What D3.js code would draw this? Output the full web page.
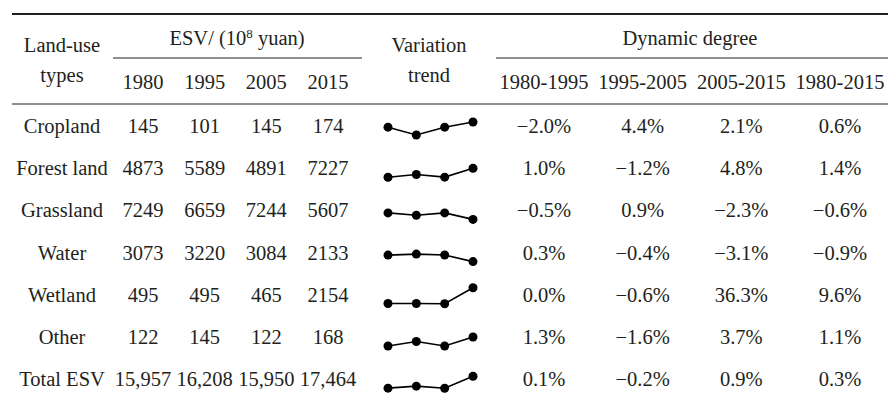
<!DOCTYPE html>
<html><head><meta charset="utf-8">
<script src="https://cdn.jsdelivr.net/npm/d3@7"></script>
<style>html,body{margin:0;padding:0;background:#fff;}svg{display:block;}</style>
</head><body>
<script>
const landTypes = ["Cropland","Forest land","Grassland","Water","Wetland","Other","Total ESV"];
const years = ["1980","1995","2005","2015"];
const esv = [
  [145,101,145,174],
  [4873,5589,4891,7227],
  [7249,6659,7244,5607],
  [3073,3220,3084,2133],
  [495,495,465,2154],
  [122,145,122,168],
  [15957,16208,15950,17464]
];
const periods = ["1980-1995","1995-2005","2005-2015","1980-2015"];
const dynamic = [
  [-2.0,4.4,2.1,0.6],
  [1.0,-1.2,4.8,1.4],
  [-0.5,0.9,-2.3,-0.6],
  [0.3,-0.4,-3.1,-0.9],
  [0.0,-0.6,36.3,9.6],
  [1.3,-1.6,3.7,1.1],
  [0.1,-0.2,0.9,0.3]
];

// layout
const W = 888, H = 415;
const trendSpan = [13, 9, 6.5, 7.5, 16, 9, 12];
const font = "'Liberation Serif', 'Times New Roman', serif";
const fs = 20.5;
const ink = "#231f20";

const svg = d3.select("body").append("svg").attr("width", W).attr("height", H)
  .style("font-family", font).style("font-size", fs + "px").attr("fill", ink);

const xYear = d3.scalePoint().domain(years).range([143, 328]);
const xPeriod = d3.scalePoint().domain(periods).range([544, 840]);
const xTrend = d3.scalePoint().domain(years).range([388, 473]);
const yRow = d3.scalePoint().domain(landTypes).range([127, 127 + 6 * 42.2]);
const labelX = 62;

// rules
svg.append("line").attr("x1", 12).attr("x2", W).attr("y1", 14).attr("y2", 14).attr("stroke", ink).attr("stroke-width", 2);
svg.append("line").attr("x1", 12).attr("x2", W).attr("y1", 104).attr("y2", 104).attr("stroke", ink).attr("stroke-width", 1);
svg.append("line").attr("x1", 113).attr("x2", 362).attr("y1", 58).attr("y2", 58).attr("stroke", ink).attr("stroke-width", 1);
svg.append("line").attr("x1", 496).attr("x2", W).attr("y1", 58).attr("y2", 58).attr("stroke", ink).attr("stroke-width", 1);

// header
const hdr = svg.append("g").attr("text-anchor", "middle");
hdr.append("text").attr("x", labelX).attr("y", 52).text("Land-use");
hdr.append("text").attr("x", labelX).attr("y", 82).text("types");
hdr.append("text").attr("x", 429).attr("y", 52).text("Variation");
hdr.append("text").attr("x", 429).attr("y", 82).text("trend");
const esvT = hdr.append("text").attr("x", 237).attr("y", 45);
esvT.append("tspan").text("ESV/ (10");
esvT.append("tspan").attr("dy", -7).style("font-size", "13px").text("8");
esvT.append("tspan").attr("dy", 7).text(" yuan)");
hdr.append("text").attr("x", 690).attr("y", 45).text("Dynamic degree");
hdr.selectAll("text.yr").data(years).join("text").attr("class", "yr")
  .attr("x", d => xYear(d)).attr("y", 89).text(d => d);
hdr.selectAll("text.pr").data(periods).join("text").attr("class", "pr")
  .attr("x", d => xPeriod(d)).attr("y", 89).text(d => d);

// body
const fmtInt = v => v >= 10000 ? d3.format(",")(v) : d3.format("d")(v);
const fmtPct = v => d3.format(".1f")(v) + "%";

const rows = svg.selectAll("g.row").data(landTypes).join("g").attr("class", "row")
  .attr("text-anchor", "middle");

rows.append("text").attr("x", labelX).attr("y", d => yRow(d) + 6).text(d => d);

rows.each(function(name, i) {
  const g = d3.select(this);
  const base = yRow(name) + 6;
  g.selectAll("text.v").data(esv[i]).join("text").attr("class", "v")
    .attr("x", (d, j) => xYear(years[j])).attr("y", base).text(d => fmtInt(d));
  g.selectAll("text.p").data(dynamic[i]).join("text").attr("class", "p")
    .attr("x", (d, j) => xPeriod(periods[j])).attr("y", base).text(d => fmtPct(d));
  const ext = d3.extent(esv[i]);
  const bottom = yRow(name) + 8;
  const y = d3.scaleLinear().domain(ext).range([bottom, bottom - trendSpan[i]]);
  const line = d3.line().x((d, j) => xTrend(years[j])).y(d => y(d));
  g.append("path").attr("d", line(esv[i])).attr("fill", "none").attr("stroke", "#000").attr("stroke-width", 1.6);
  g.selectAll("circle").data(esv[i]).join("circle")
    .attr("cx", (d, j) => xTrend(years[j])).attr("cy", d => y(d)).attr("r", 4.5).attr("fill", "#000");
});
</script>
</body></html>
